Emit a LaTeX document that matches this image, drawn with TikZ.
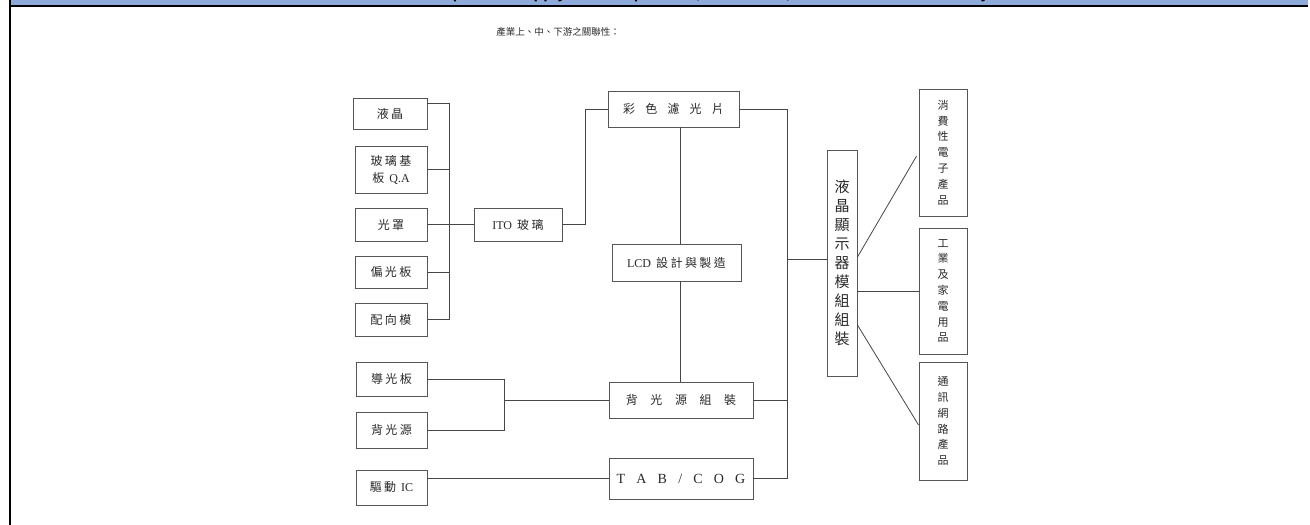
\documentclass[tikz,border=0pt]{standalone}
\usepackage{fontspec}
\setmainfont{Liberation Serif}
\newfontfamily\cjk[LetterSpace=20]{Noto Sans CJK TC}
\newfontfamily\cjkv{Noto Sans CJK TC}
\newfontfamily\hdrfont{Liberation Sans}
\definecolor{hdrblue}{RGB}{142,170,219}
\definecolor{linec}{RGB}{70,70,70}
\definecolor{boxc}{RGB}{85,85,85}
\definecolor{txtc}{RGB}{40,40,40}
\tikzset{
  box/.style={draw=boxc, line width=0.9pt, inner sep=0pt, text=txtc, align=center,
              font=\fontsize{12}{17}\selectfont\cjk},
  vbox/.style={box, font=\fontsize{11}{15.8}\selectfont\cjkv},
  conn/.style={draw=linec, line width=0.8pt}
}
\begin{document}
\begin{tikzpicture}[x=1pt,y=-1pt]
\useasboundingbox (0,0) rectangle (1310,525);
% header
\fill[hdrblue] (10,0) rectangle (1308,5);
\begin{scope}
\clip (10,0) rectangle (1308,5);
\node[anchor=base, font=\fontsize{16}{18}\selectfont\hdrfont\bfseries, inner sep=0] (hdr) at (678,-1.5)
  {Relationship of the supply chain: upstream, midstream, and downstream industry};
\end{scope}
\draw[black, line width=2pt] (9,6) -- (1308,6);
\draw[black, line width=2pt] (10,0) -- (10,525);
% title
\node[font=\fontsize{9.5}{11}\selectfont\cjkv, text=txtc, inner sep=0] (title) at (558,32) {產業上、中、下游之關聯性：};
% left column
\node[box, minimum width=74, minimum height=31] (yj) at (390,113.5) {液晶};
\node[box, minimum width=72, minimum height=47] (gl) at (391,169.5) {玻璃基\\板 {\rmfamily Q.A}};
\node[box, minimum width=72, minimum height=33] (gz) at (391,224.5) {光罩};
\node[box, minimum width=72, minimum height=32] (pg) at (391,272) {偏光板};
\node[box, minimum width=72, minimum height=33] (py) at (391,319.5) {配向模};
\node[box, minimum width=71, minimum height=34] (dg) at (391.5,379) {導光板};
\node[box, minimum width=71, minimum height=36] (bg) at (391.5,430) {背光源};
\node[box, minimum width=71, minimum height=35] (ic) at (391.5,487.5) {驅動 {\rmfamily IC}};
% middle
\node[box, minimum width=88, minimum height=33] (ito) at (518,224.5) {{\rmfamily ITO} 玻璃};
\node[box, minimum width=131, minimum height=36] (cf) at (673.5,109) {彩\hspace{0.85em}色\hspace{0.85em}濾\hspace{0.85em}光\hspace{0.85em}片};
\node[box, minimum width=129, minimum height=37] (lcd) at (676.5,262.5) {{\rmfamily LCD} 設計與製造};
\node[box, minimum width=144, minimum height=36] (bl) at (681,400) {背\hspace{1.05em}光\hspace{1.05em}源\hspace{1.05em}組\hspace{1.05em}裝};
\node[box, minimum width=144, minimum height=41, font=\fontsize{14}{17}\selectfont\rmfamily] (tab) at (681,478.5) {T\hspace{0.8em}A\hspace{0.8em}B\hspace{0.8em}/\hspace{0.8em}C\hspace{0.8em}O\hspace{0.8em}G};
% module
\node[box, minimum width=30, minimum height=226, font=\fontsize{15}{19}\selectfont\cjkv] (mod) at (842,263) {液\\晶\\顯\\示\\器\\模\\組\\組\\裝};
% right products
\node[vbox, minimum width=48, minimum height=127] (p1) at (943,152.5) {消\\費\\性\\電\\子\\產\\品};
\node[vbox, minimum width=48, minimum height=126] (p2) at (943,291) {工\\業\\及\\家\\電\\用\\品};
\node[vbox, minimum width=48, minimum height=118] (p3) at (943,421) {通\\訊\\網\\路\\產\\品};
% connectors
\coordinate (b1) at (449,103);
\coordinate (vx) at (680,0);
\coordinate (rb) at (787,0);
\coordinate (lb) at (504,400);
\draw[conn] (yj.east |- b1) -- (b1) -- (py.east -| b1);
\draw[conn] (gl.east) -- (gl.east -| b1);
\draw[conn] (pg.east) -- (pg.east -| b1);
\draw[conn] (py.east) -- (py.east -| b1);
\draw[conn] (gz.east) -- (ito.west);
\draw[conn] (ito.east) -- ++(23,0) |- (cf.west);
\draw[conn] (cf.south -| vx) -- (lcd.north -| vx);
\draw[conn] (lcd.south -| vx) -- (bl.north -| vx);
\draw[conn] (dg.east) -- (dg.east -| lb) -- (bg.east -| lb) -- (bg.east);
\draw[conn] (lb) -- (bl.west);
\draw[conn] (ic.east |- tab.west) -- (tab.west);
\draw[conn] (cf.east) -- (cf.east -| rb) -- (tab.east -| rb) -- (tab.east);
\draw[conn] (bl.east) -- (bl.east -| rb);
\draw[conn] ([yshift=4pt]mod.west) -- ([yshift=4pt]mod.west -| rb);
\draw[conn] ([yshift=6pt]mod.east) -- ([xshift=-2pt,yshift=-3.5pt]p1.west);
\draw[conn] (mod.east |- p2.west) -- (p2.west);
\draw[conn] ([yshift=-62pt]mod.east) -- ([yshift=-4pt]p3.west);
\end{tikzpicture}
\end{document}
